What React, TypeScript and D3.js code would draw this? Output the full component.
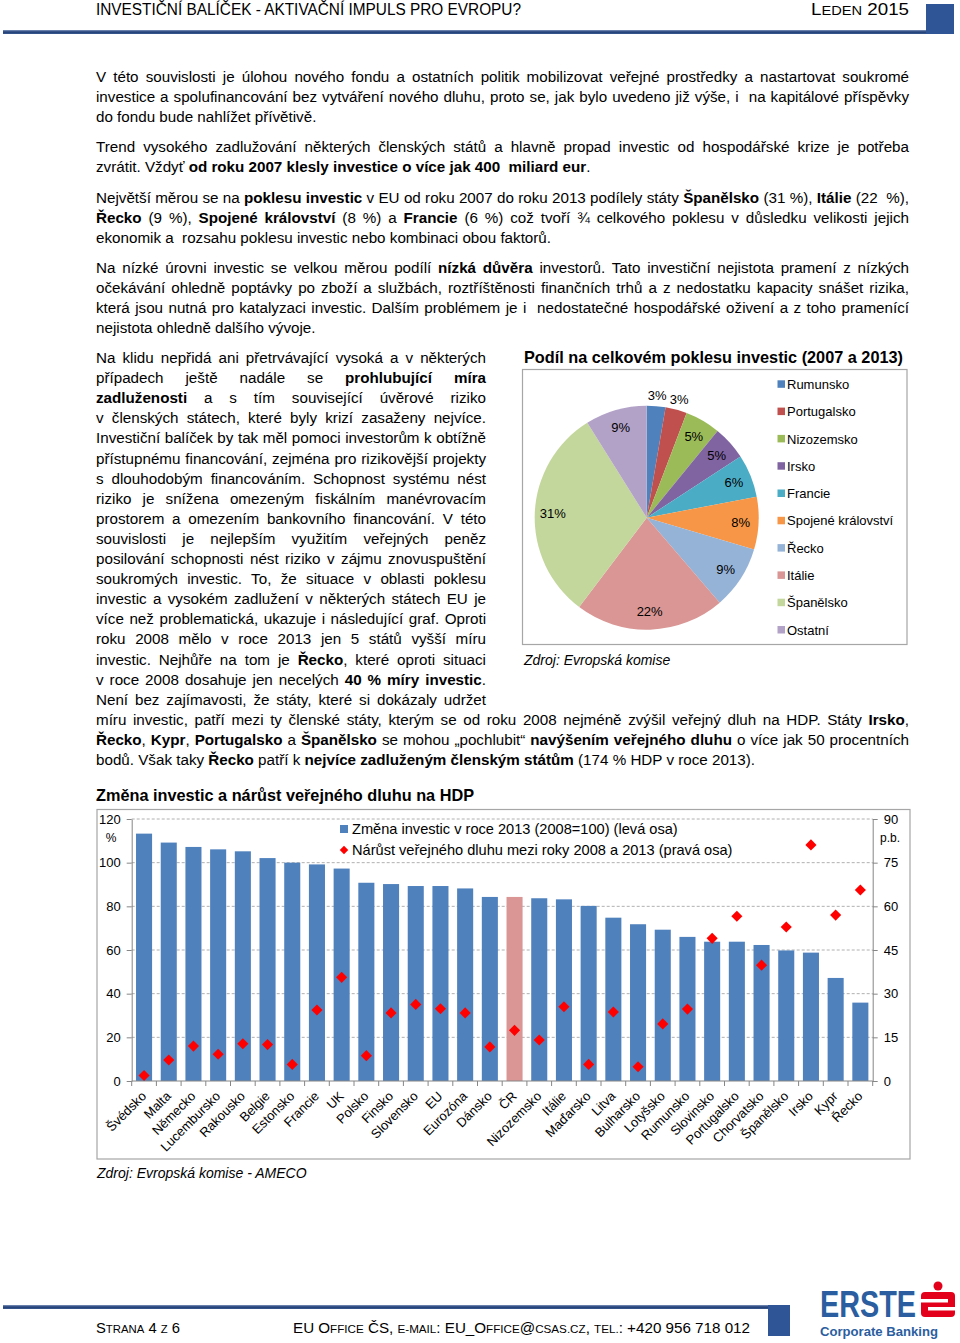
import React, { useEffect, useRef } from 'react';
import * as d3 from 'd3';

const W = 960;
const H = 1343;
const FONT = '"Liberation Sans", Arial, Helvetica, sans-serif';
const NARROW = '"Liberation Sans Narrow", "Arial Narrow", "Liberation Sans", Arial, sans-serif';

// ---------- Bar chart data ----------
const countries = ['Švédsko', 'Malta', 'Německo', 'Lucembursko', 'Rakousko', 'Belgie', 'Estonsko', 'Francie', 'UK', 'Polsko', 'Finsko', 'Slovensko', 'EU', 'Eurozóna', 'Dánsko', 'ČR', 'Nizozemsko', 'Itálie', 'Maďarsko', 'Litva', 'Bulharsko', 'Lotyšsko', 'Rumunsko', 'Slovinsko', 'Portugalsko', 'Chorvatsko', 'Španělsko', 'Irsko', 'Kypr', 'Řecko'];
const investChange = [113.3, 109.2, 107.2, 106.1, 105.2, 102.1, 100.0, 99.2, 97.3, 90.8, 90.2, 89.3, 89.3, 88.2, 84.3, 84.3, 83.7, 83.2, 80.2, 74.8, 71.8, 69.3, 66.0, 63.8, 63.8, 62.3, 59.8, 58.8, 47.2, 35.9];
const debtIncrease = [1.9, 7.2, 12.0, 9.2, 12.8, 12.5, 5.7, 24.4, 35.6, 8.7, 23.4, 26.3, 24.8, 23.4, 11.7, 17.4, 14.1, 25.5, 5.7, 23.7, 4.9, 19.6, 24.7, 49.0, 56.6, 39.8, 52.9, 81.1, 57.0, 65.6];
const highlightCountry = 'ČR';
const leftTicks = [0, 20, 40, 60, 80, 100, 120];
const rightTicks = [0, 15, 30, 45, 60, 75, 90];
const barSeriesName = 'Změna investic v roce 2013 (2008=100) (levá osa)';
const debtSeriesName = 'Nárůst veřejného dluhu mezi roky 2008 a 2013 (pravá osa)';

// ---------- Pie chart data ----------
const pieCategories = ['Rumunsko', 'Portugalsko', 'Nizozemsko', 'Irsko', 'Francie', 'Spojené království', 'Řecko', 'Itálie', 'Španělsko', 'Ostatní'];
const pieValues = [2.7, 3.1, 5.1, 4.9, 6.2, 7.6, 9.1, 21.6, 30.8, 8.9];
const pieColors = ['#4F81BD', '#C0504D', '#9BBB59', '#8064A2', '#4BACC6', '#F79646', '#95B3D7', '#D99694', '#C3D69B', '#B3A2C7'];

// ---------- Text ----------
const topLines: [string, boolean][] = [
  ['V této souvislosti je úlohou nového fondu a ostatních politik mobilizovat veřejné prostředky a nastartovat soukromé', true],
  ['investice a spolufinancování bez vytváření nového dluhu, proto se, jak bylo uvedeno již výše, i  na kapitálové příspěvky', true],
  ['do fondu bude nahlížet přívětivě.', false],
  ['Trend vysokého zadlužování některých členských států a hlavně propad investic od hospodářské krize je potřeba', true],
  ['zvrátit. Vždyť **od roku 2007 klesly investice o více jak 400  miliard eur**.', false],
  ['Největší měrou se na **poklesu investic** v EU od roku 2007 do roku 2013 podílely státy **Španělsko** (31 %), **Itálie** (22  %),', true],
  ['**Řecko** (9 %), **Spojené království** (8 %) a **Francie** (6 %) což tvoří ¾ celkového poklesu v důsledku velikosti jejich', true],
  ['ekonomik a  rozsahu poklesu investic nebo kombinaci obou faktorů.', false],
  ['Na nízké úrovni investic se velkou měrou podílí **nízká důvěra** investorů. Tato investiční nejistota pramení z nízkých', true],
  ['očekávání ohledně poptávky po zboží a službách, roztříštěnosti finančních trhů a z nedostatku kapacity snášet rizika,', true],
  ['která jsou nutná pro katalyzaci investic. Dalším problémem je i  nedostatečné hospodářské oživení a z toho pramenící', true],
  ['nejistota ohledně dalšího vývoje.', false],
];
const topLineY = [82, 102, 122, 152, 172, 203, 223, 243, 273, 293, 313, 333];

const leftLines: [string, boolean][] = [
  ['Na klidu nepřidá ani přetrvávající vysoká a v některých', true],
  ['případech ještě nadále se **prohlubující míra**', true],
  ['**zadluženosti** a s tím související úvěrové riziko', true],
  ['v členských státech, které byly krizí zasaženy nejvíce.', true],
  ['Investiční balíček by tak měl pomoci investorům k obtížně', true],
  ['přístupnému financování, zejména pro rizikovější projekty', true],
  ['s dlouhodobým financováním. Schopnost systému nést', true],
  ['riziko je snížena omezeným fiskálním manévrovacím', true],
  ['prostorem a omezením bankovního financování. V této', true],
  ['souvislosti je nejlepším využitím veřejných peněz', true],
  ['posilování schopnosti nést riziko v zájmu znovuspuštění', true],
  ['soukromých investic. To, že situace v oblasti poklesu', true],
  ['investic a vysokém zadlužení v některých státech EU je', true],
  ['více než problematická, ukazuje i následující graf. Oproti', true],
  ['roku 2008 mělo v roce 2013 jen 5 států vyšší míru', true],
  ['investic. Nejhůře na tom je **Řecko**, které oproti situaci', true],
  ['v roce 2008 dosahuje jen necelých **40 % míry investic**.', true],
  ['Není bez zajímavosti, že státy, které si dokázaly udržet', true],
];
const fullLines: [string, boolean][] = [
  ['míru investic, patří mezi ty členské státy, kterým se od roku 2008 nejméně zvýšil veřejný dluh na HDP. Státy **Irsko**,', true],
  ['**Řecko**, **Kypr**, **Portugalsko** a **Španělsko** se mohou „pochlubit“ **navýšením veřejného dluhu** o více jak 50 procentních', true],
  ['bodů. Však taky **Řecko** patří k **nejvíce zadluženým členským státům** (174 % HDP v roce 2013).', false],
];

const BODY_SIZE = 15.2;

function drawLine(
  g: d3.Selection<SVGGElement, unknown, null, undefined>,
  x: number,
  y: number,
  width: number,
  line: string,
  justify: boolean,
  size = BODY_SIZE
) {
  const t = g
    .append('text')
    .attr('x', x)
    .attr('y', y)
    .style('font-family', FONT)
    .style('font-size', size + 'px')
    .style('white-space', 'pre')
    .attr('fill', '#000');
  const parts = line.split('**');
  parts.forEach((p, i) => {
    if (!p) return;
    t.append('tspan').attr('font-weight', i % 2 === 1 ? 'bold' : 'normal').text(p);
  });
  if (justify) {
    const node = t.node() as SVGTextElement;
    const natural = node.getComputedTextLength();
    const spaces = (line.replace(/\*\*/g, '').match(/ /g) || []).length;
    if (spaces > 0) {
      const ws = (width - natural) / spaces;
      t.style('word-spacing', ws + 'px');
    }
  }
}

export default function App() {
  const ref = useRef<SVGSVGElement>(null);

  useEffect(() => {
    const svg = d3.select(ref.current);
    svg.selectAll('*').remove();

    // ---------- Header ----------
    const header = svg.append('g');
    header
      .append('text')
      .attr('x', 96)
      .attr('y', 15)
      .attr('textLength', 425)
      .attr('lengthAdjust', 'spacingAndGlyphs')
      .style('font-family', NARROW)
      .style('font-size', '16px')
      .text('INVESTIČNÍ BALÍČEK - AKTIVAČNÍ IMPULS PRO EVROPU?');
    const led = header
      .append('text')
      .attr('x', 811)
      .attr('y', 15)
      .attr('textLength', 98)
      .attr('lengthAdjust', 'spacingAndGlyphs')
      .style('font-family', NARROW)
      .style('font-size', '16px');
    led.append('tspan').text('L');
    led.append('tspan').style('font-size', '12.5px').text('EDEN');
    led.append('tspan').text(' 2015');
    const hg = svg.append('defs').append('linearGradient').attr('id', 'hl').attr('x1', 0).attr('x2', 0).attr('y1', 0).attr('y2', 1);
    hg.append('stop').attr('offset', '0%').attr('stop-color', '#7f95bd');
    hg.append('stop').attr('offset', '50%').attr('stop-color', '#1f3d75');
    hg.append('stop').attr('offset', '100%').attr('stop-color', '#3b5a92');
    header.append('rect').attr('x', 3).attr('y', 30).attr('width', 924).attr('height', 4).attr('fill', 'url(#hl)');
    header.append('rect').attr('x', 926).attr('y', 4).attr('width', 28).attr('height', 30).attr('fill', '#2f5597');

    // ---------- Body text ----------
    const body = svg.append('g');
    topLines.forEach(([l, j], i) => drawLine(body, 96, topLineY[i], 813, l, j));
    leftLines.forEach(([l, j], i) => drawLine(body, 96, 363 + i * 20.1, 390, l, j));
    fullLines.forEach(([l, j], i) => drawLine(body, 96, 725 + i * 20.1, 813, l, j));

    // ---------- Pie chart ----------
    const pieG = svg.append('g');
    pieG
      .append('text')
      .attr('x', 524)
      .attr('y', 363)
      .attr('textLength', 379)
      .attr('lengthAdjust', 'spacingAndGlyphs')
      .style('font-family', FONT)
      .style('font-size', '16.5px')
      .attr('font-weight', 'bold')
      .text('Podíl na celkovém poklesu investic (2007 a 2013)');
    pieG.append('rect').attr('x', 522.5).attr('y', 369.5).attr('width', 384.5).attr('height', 275).attr('fill', '#fff').attr('stroke', '#a6a6a6').attr('stroke-width', 1.2);
    const cx = 646.7;
    const cy = 517.7;
    const R = 112;
    const pieData = d3.pie<number>().sort(null).value((d) => d)(pieValues);
    const arc = d3.arc<d3.PieArcDatum<number>>().innerRadius(0).outerRadius(R);
    const pc = pieG.append('g').attr('transform', `translate(${cx},${cy})`);
    pc.selectAll('path')
      .data(pieData)
      .enter()
      .append('path')
      .attr('d', arc)
      .attr('fill', (_d, i) => pieColors[i]);
    pc.selectAll('text.pl')
      .data(pieData)
      .enter()
      .append('text')
      .attr('class', 'pl')
      .attr('transform', (d) => {
        const a = (d.startAngle + d.endAngle) / 2;
        const r = d.value < 4 ? 123 : 94;
        return `translate(${Math.sin(a) * r},${-Math.cos(a) * r})`;
      })
      .attr('text-anchor', 'middle')
      .attr('dy', '0.36em')
      .style('font-family', FONT)
      .style('font-size', '13px')
      .attr('fill', '#000')
      .text((d) => `${Math.round(d.value)}%`);
    const lg = pieG.append('g');
    pieCategories.forEach((c, i) => {
      const yy = 384.3 + i * 27.3;
      lg.append('rect').attr('x', 777.5).attr('y', yy - 4).attr('width', 7.5).attr('height', 7.5).attr('fill', pieColors[i]);
      lg.append('text')
        .attr('x', 787)
        .attr('y', yy)
        .attr('dy', '0.36em')
        .style('font-family', FONT)
        .style('font-size', '13px')
        .text(c);
    });
    pieG
      .append('text')
      .attr('x', 524)
      .attr('y', 665)
      .style('font-family', FONT)
      .style('font-size', '14px')
      .style('font-style', 'italic')
      .text('Zdroj: Evropská komise');

    // ---------- Bar chart ----------
    const bg = svg.append('g');
    bg.append('text')
      .attr('x', 96)
      .attr('y', 801)
      .attr('textLength', 378)
      .attr('lengthAdjust', 'spacingAndGlyphs')
      .style('font-family', FONT)
      .style('font-size', '16.5px')
      .attr('font-weight', 'bold')
      .text('Změna investic a nárůst veřejného dluhu na HDP');
    bg.append('rect').attr('x', 97).attr('y', 809.5).attr('width', 813).attr('height', 349.5).attr('fill', '#fff').attr('stroke', '#a6a6a6').attr('stroke-width', 1.2);

    const x0 = 131.7;
    const x1 = 872.7;
    const x = d3.scaleBand<string>().domain(countries).range([x0, x1]).paddingInner(0.35).paddingOuter(0.175);
    const yL = d3.scaleLinear().domain([0, 120]).range([1081, 819]);
    const yR = d3.scaleLinear().domain([0, 90]).range([1081, 819]);

    // gridlines
    bg.selectAll('line.grid')
      .data(leftTicks.filter((t) => t > 0))
      .enter()
      .append('line')
      .attr('x1', x0)
      .attr('x2', x1)
      .attr('y1', (d) => yL(d))
      .attr('y2', (d) => yL(d))
      .attr('stroke', '#b0b0b0')
      .attr('stroke-width', 1)
      .attr('stroke-dasharray', '3,2');

    // bars
    bg.selectAll('rect.bar')
      .data(countries)
      .enter()
      .append('rect')
      .attr('x', (d) => x(d)!)
      .attr('width', x.bandwidth())
      .attr('y', (_d, i) => yL(investChange[i]))
      .attr('height', (_d, i) => yL(0) - yL(investChange[i]))
      .attr('fill', (d) => (d === highlightCountry ? '#D99694' : '#4F81BD'));

    // axes
    const axisColor = '#868686';
    const la = bg.append('g').attr('transform', `translate(${x0},0)`).call(d3.axisLeft(yL).tickValues(leftTicks).tickSizeInner(5).tickSizeOuter(0).tickPadding(6));
    const ra = bg.append('g').attr('transform', `translate(${x1},0)`).call(d3.axisRight(yR).tickValues(rightTicks).tickSizeInner(5).tickSizeOuter(0).tickPadding(6));
    [la, ra].forEach((a) => {
      a.select('.domain').attr('stroke', axisColor);
      a.selectAll('.tick line').attr('stroke', axisColor);
      a.selectAll('.tick text').style('font-family', FONT).style('font-size', '13px').attr('fill', '#000');
    });
    bg.append('line').attr('x1', x0).attr('x2', x1).attr('y1', yL(0)).attr('y2', yL(0)).attr('stroke', axisColor);
    d3.range(countries.length + 1).forEach((i) => {
      const xx = x0 + (i * (x1 - x0)) / countries.length;
      bg.append('line').attr('x1', xx).attr('x2', xx).attr('y1', yL(0)).attr('y2', yL(0) + 5).attr('stroke', axisColor);
    });
    bg.append('text').attr('x', 111).attr('y', 842).attr('text-anchor', 'middle').style('font-family', FONT).style('font-size', '12px').text('%');
    bg.append('text').attr('x', 890).attr('y', 842).attr('text-anchor', 'middle').style('font-family', FONT).style('font-size', '12px').text('p.b.');

    // diamonds
    const diamond = d3.symbol().type(d3.symbolSquare).size(62);
    bg.selectAll('path.dm')
      .data(countries)
      .enter()
      .append('path')
      .attr('d', diamond()!)
      .attr('transform', (d, i) => `translate(${x(d)! + x.bandwidth() / 2},${yR(debtIncrease[i])}) rotate(45)`)
      .attr('fill', '#FF0000');

    // x labels
    bg.selectAll('text.xl')
      .data(countries)
      .enter()
      .append('text')
      .attr('transform', (d) => `translate(${x(d)! + x.bandwidth() / 2 + 3},${yL(0) + 16}) rotate(-45)`)
      .attr('text-anchor', 'end')
      .style('font-family', FONT)
      .style('font-size', '13px')
      .attr('fill', '#000')
      .text((d) => d);

    // legend
    bg.append('rect').attr('x', 340).attr('y', 825).attr('width', 8).attr('height', 8).attr('fill', '#4F81BD');
    bg.append('text').attr('x', 352).attr('y', 829).attr('dy', '0.36em').style('font-family', FONT).style('font-size', '14.6px').text(barSeriesName);
    bg.append('path').attr('d', d3.symbol().type(d3.symbolSquare).size(36)()!).attr('transform', 'translate(344,850) rotate(45)').attr('fill', '#FF0000');
    bg.append('text').attr('x', 352).attr('y', 850).attr('dy', '0.36em').style('font-family', FONT).style('font-size', '14.6px').text(debtSeriesName);

    bg.append('text')
      .attr('x', 97)
      .attr('y', 1178)
      .style('font-family', FONT)
      .style('font-size', '14px')
      .style('font-style', 'italic')
      .text('Zdroj: Evropská komise - AMECO');

    // ---------- Footer ----------
    const ft = svg.append('g');
    ft.append('rect').attr('x', 3).attr('y', 1305).attr('width', 766).attr('height', 4).attr('fill', 'url(#hl)');
    ft.append('rect').attr('x', 768).attr('y', 1305).attr('width', 22).attr('height', 31).attr('fill', '#2f5597');
    const s1 = ft.append('text').attr('x', 96).attr('y', 1333).attr('textLength', 84).attr('lengthAdjust', 'spacingAndGlyphs').style('font-family', NARROW).style('font-size', '15px');
    s1.append('tspan').text('S');
    s1.append('tspan').style('font-size', '11.5px').text('TRANA');
    s1.append('tspan').text(' 4 ');
    s1.append('tspan').style('font-size', '11.5px').text('Z');
    s1.append('tspan').text(' 6');
    const s2 = ft.append('text').attr('x', 293).attr('y', 1333).attr('textLength', 457).attr('lengthAdjust', 'spacingAndGlyphs').style('font-family', NARROW).style('font-size', '15px');
    const parts: [string, boolean][] = [
      ['EU O', false], ['FFICE', true], [' ČS, ', false], ['E-MAIL', true], [': EU_O', false], ['FFICE', true], ['@', false], ['CSAS.CZ', true], [', ', false], ['TEL.', true], [': +420 956 718 012', false],
    ];
    parts.forEach(([t, small]) => {
      const ts = s2.append('tspan').text(t);
      if (small) ts.style('font-size', '11.5px');
    });

    // ERSTE logo
    const logoBlue = '#2b5ea0';
    ft.append('text').attr('x', 820).attr('y', 1317).attr('textLength', 96).attr('lengthAdjust', 'spacingAndGlyphs').style('font-family', NARROW).style('font-size', '36px').attr('font-weight', 'bold').attr('fill', logoBlue).text('ERSTE');
    ft.append('circle').attr('cx', 938).attr('cy', 1286).attr('r', 4.5).attr('fill', '#e2001a');
    ft.append('rect').attr('x', 921).attr('y', 1292).attr('width', 34).attr('height', 25).attr('rx', 4).attr('fill', '#e2001a');
    ft.append('rect').attr('x', 921).attr('y', 1299).attr('width', 27).attr('height', 3.5).attr('fill', '#fff');
    ft.append('rect').attr('x', 928).attr('y', 1307).attr('width', 27).attr('height', 3.5).attr('fill', '#fff');
    ft.append('text').attr('x', 820).attr('y', 1336).attr('textLength', 118).attr('lengthAdjust', 'spacingAndGlyphs').style('font-family', FONT).style('font-size', '12.5px').attr('font-weight', 'bold').attr('fill', logoBlue).text('Corporate Banking');
  }, []);

  return (
    <svg
      ref={ref}
      width={W}
      height={H}
      viewBox={`0 0 ${W} ${H}`}
      style={{ position: 'absolute', left: 0, top: 0, display: 'block', background: '#fff' }}
    />
  );
}
